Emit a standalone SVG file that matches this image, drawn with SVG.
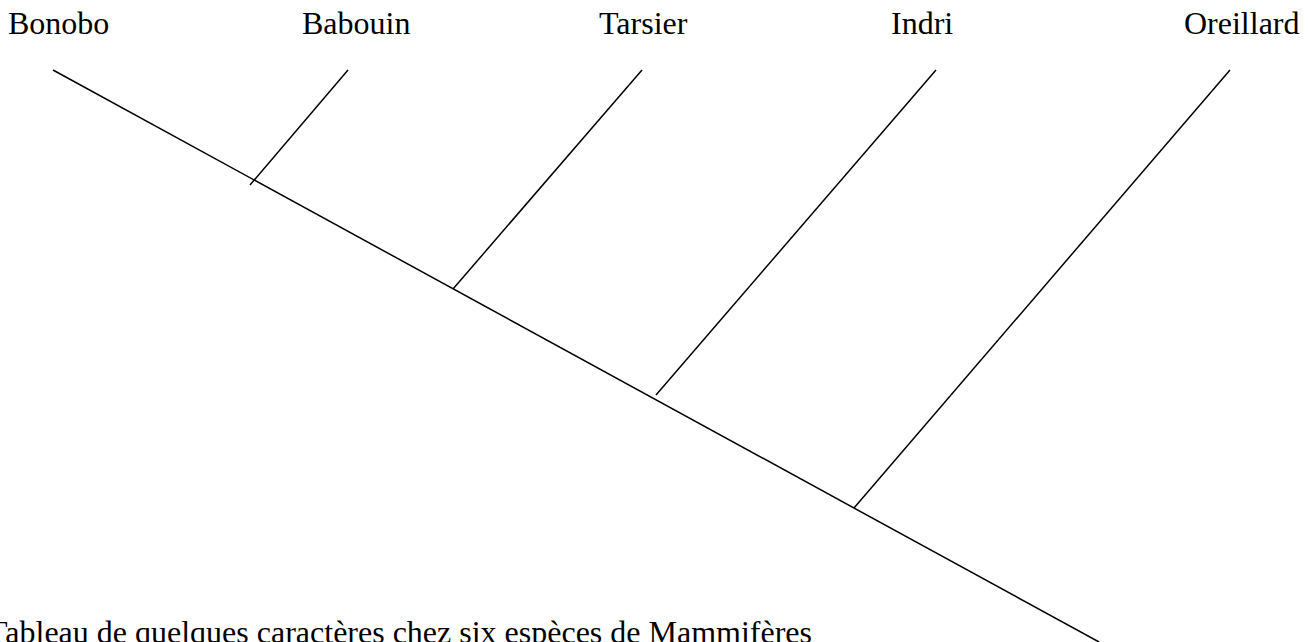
<svg xmlns="http://www.w3.org/2000/svg" width="1308" height="642" viewBox="0 0 1308 642">
<style>
.lbl{font-family:"Liberation Serif","Times New Roman",serif;font-size:32px;fill:#000}
.ln{stroke:#000;stroke-width:1.5;fill:none;stroke-linecap:butt}
</style>
<rect width="1308" height="642" fill="#fff"/>
<g id="connectors">
<line class="ln" x1="53" y1="70" x2="1099" y2="642"/>
<line class="ln" x1="348" y1="70" x2="250" y2="185"/>
<line class="ln" x1="642" y1="70" x2="453" y2="289"/>
<line class="ln" x1="936" y1="70" x2="656" y2="395"/>
<line class="ln" x1="1230" y1="70" x2="854" y2="508"/>
</g>
<g id="node-bonobo"><text class="lbl" x="8" y="34">Bonobo</text></g>
<g id="node-babouin"><text class="lbl" x="302" y="34">Babouin</text></g>
<g id="node-tarsier"><text class="lbl" x="599" y="34">Tarsier</text></g>
<g id="node-indri"><text class="lbl" x="891" y="34">Indri</text></g>
<g id="node-oreillard"><text class="lbl" x="1184" y="34">Oreillard</text></g>
<g id="caption"><text class="lbl" x="-12" y="643">Tableau de quelques caractères chez six espèces de Mammifères</text></g>
</svg>
